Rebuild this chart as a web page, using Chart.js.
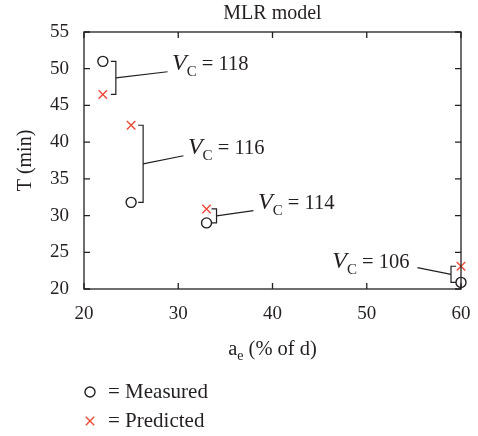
<!DOCTYPE html>
<html><head><meta charset="utf-8">
<script src="https://cdn.jsdelivr.net/npm/chart.js@4.4.0/dist/chart.umd.min.js"></script>
<style>html,body{margin:0;padding:0;background:#fff;} #wrap{width:478px;height:436px;position:relative;}</style>
</head><body><div id="wrap"><canvas id="c" width="478" height="436"></canvas></div>
<script>
// ---- data ----
const aeValues = [22, 25, 33, 60];            // a_e (% of d)
const measuredT = [51.0, 31.8, 29.0, 20.9];   // T (min), measured
const predictedT = [46.5, 42.3, 30.9, 23.1];  // T (min), MLR predicted
const vcValues = [118, 116, 114, 106];        // cutting speed groups
const xTickValues = [20, 30, 40, 50, 60];
const yTickValues = [20, 25, 30, 35, 40, 45, 50, 55];
const seriesLabels = ['Measured', 'Predicted'];

// ---- styles / annotation layout ----
const FONT = "'Liberation Serif', 'Times New Roman', serif";
const INK = '#231f20';
const RED = '#ee4a36';
const annoLayout = [
  {bracketDx: 13, labelX: 29.34, labelY: 49.82, align: 'left'},
  {bracketDx: 12, labelX: 31.03, labelY: 38.38, align: 'left'},
  {bracketDx: 10, labelX: 38.46, labelY: 30.9, align: 'left'},
  {bracketDx: -10, labelX: 54.53, labelY: 22.9, align: 'right'}
];

function vcParts(ctx, value) {
  const parts = [
    {t: 'V', f: 'italic 24px ' + FONT, dy: 0},
    {t: 'C', f: '15px ' + FONT, dy: 6},
    {t: ' = ' + value, f: '20.5px ' + FONT, dy: 0}
  ];
  let w = 0;
  parts.forEach(p => { ctx.font = p.f; p.w = ctx.measureText(p.t).width; w += p.w; });
  return {parts, w};
}

const decorPlugin = {
  id: 'decor',
  afterDatasetsDraw(chart) {
    const ctx = chart.ctx;
    const xs = chart.scales.x, ys = chart.scales.y;
    const a = chart.chartArea;
    ctx.save();
    // frame + inward ticks
    ctx.strokeStyle = INK;
    ctx.lineWidth = 1.3;
    ctx.strokeRect(a.left, a.top, a.right - a.left, a.bottom - a.top);
    ctx.beginPath();
    xTickValues.forEach(v => {
      const px = xs.getPixelForValue(v);
      ctx.moveTo(px, a.bottom); ctx.lineTo(px, a.bottom - 6);
      ctx.moveTo(px, a.top); ctx.lineTo(px, a.top + 6);
    });
    yTickValues.forEach(v => {
      const py = ys.getPixelForValue(v);
      ctx.moveTo(a.left, py); ctx.lineTo(a.left + 6, py);
      ctx.moveTo(a.right, py); ctx.lineTo(a.right - 6, py);
    });
    ctx.stroke();

    // brackets, leader lines, V_C labels
    ctx.lineWidth = 1.2;
    aeValues.forEach((x, i) => {
      const L = annoLayout[i];
      const px = xs.getPixelForValue(x);
      const y1 = ys.getPixelForValue(measuredT[i]);
      const y2 = ys.getPixelForValue(predictedT[i]);
      const top = Math.min(y1, y2), bot = Math.max(y1, y2);
      const bx = px + L.bracketDx;
      const tab = L.bracketDx > 0 ? -5 : 5;
      ctx.beginPath();
      ctx.moveTo(bx + tab, top); ctx.lineTo(bx, top); ctx.lineTo(bx, bot); ctx.lineTo(bx + tab, bot);
      ctx.stroke();
      const lx = xs.getPixelForValue(L.labelX);
      const ly = ys.getPixelForValue(L.labelY);
      const {parts, w} = vcParts(ctx, vcValues[i]);
      const startX = L.align === 'left' ? lx : lx - w;
      const endLineX = L.align === 'left' ? lx - 4.5 : lx + 8;
      const endLineY = L.align === 'left' ? ly + 1.7 : ly;
      ctx.beginPath();
      ctx.moveTo(bx, (top + bot) / 2); ctx.lineTo(endLineX, endLineY);
      ctx.stroke();
      ctx.fillStyle = INK;
      ctx.textBaseline = 'alphabetic';
      ctx.textAlign = 'left';
      let cx = startX;
      parts.forEach(p => { ctx.font = p.f; ctx.fillText(p.t, cx, ly + p.dy); cx += p.w; });
    });

    // x-axis title with subscript
    const xt = [
      {t: 'a', f: '20.5px ' + FONT, dy: 0},
      {t: 'e', f: '14px ' + FONT, dy: 5},
      {t: ' (% of d)', f: '20.5px ' + FONT, dy: 0}
    ];
    let tw = 0;
    xt.forEach(p => { ctx.font = p.f; p.w = ctx.measureText(p.t).width; tw += p.w; });
    let tx = (a.left + a.right) / 2 - tw / 2;
    const tyb = 355;
    ctx.fillStyle = INK;
    xt.forEach(p => { ctx.font = p.f; ctx.fillText(p.t, tx, tyb + p.dy); tx += p.w; });

    // legend
    const ds = chart.data.datasets;
    const rows = [392, 421];
    ds.forEach((d, k) => {
      const cy = rows[k];
      ctx.lineWidth = 1.4;
      ctx.strokeStyle = d.borderColor;
      ctx.beginPath();
      if (d.pointStyle === 'circle') {
        ctx.fillStyle = '#fff';
        ctx.arc(90, cy, 5, 0, Math.PI * 2);
        ctx.fill();
      } else {
        const o = 4.2;
        ctx.moveTo(90 - o, cy - o); ctx.lineTo(90 + o, cy + o);
        ctx.moveTo(90 + o, cy - o); ctx.lineTo(90 - o, cy + o);
      }
      ctx.stroke();
      ctx.fillStyle = INK;
      ctx.font = '21px ' + FONT;
      ctx.textBaseline = 'middle';
      ctx.fillText('= ' + d.label, 108, cy + 0.5);
    });
    ctx.restore();
  }
};

new Chart(document.getElementById('c'), {
  type: 'scatter',
  data: {
    datasets: [
      {
        label: seriesLabels[0],
        data: aeValues.map((x, i) => ({x, y: measuredT[i]})),
        pointStyle: 'circle', pointRadius: 5, pointHoverRadius: 5,
        borderColor: INK, backgroundColor: '#fff', borderWidth: 1.4,
        clip: false
      },
      {
        label: seriesLabels[1],
        data: aeValues.map((x, i) => ({x, y: predictedT[i]})),
        pointStyle: 'crossRot', pointRadius: 6, pointHoverRadius: 6,
        borderColor: RED, backgroundColor: RED, borderWidth: 1.4,
        clip: false
      }
    ]
  },
  options: {
    responsive: false,
    animation: false,
    devicePixelRatio: 1,
    layout: {padding: {left: 0, right: 17, top: 0, bottom: 0}},
    plugins: {
      legend: {display: false},
      tooltip: {enabled: false},
      title: {
        display: true, text: 'MLR model', fullSize: false,
        color: INK, font: {family: FONT, size: 20, weight: 'normal'},
        padding: {top: 2, bottom: 6}
      }
    },
    scales: {
      x: {
        type: 'linear', min: 20, max: 60,
        afterBuildTicks: s => { s.ticks = xTickValues.map(v => ({value: v})); },
        afterFit: s => { s.height = 147; s.paddingLeft = 0; s.paddingRight = 0; },
        ticks: {color: INK, font: {family: FONT, size: 19}, padding: 14},
        grid: {display: false, drawTicks: false},
        border: {display: false}
      },
      y: {
        type: 'linear', min: 20, max: 55,
        afterBuildTicks: s => { s.ticks = yTickValues.map(v => ({value: v})); },
        afterFit: s => { s.width = 84; s.paddingTop = 0; s.paddingBottom = 0; },
        ticks: {color: INK, font: {family: FONT, size: 19}, padding: 15},
        grid: {display: false, drawTicks: false},
        border: {display: false},
        title: {display: true, text: 'T (min)', color: INK, font: {family: FONT, size: 20, weight: 'normal'}, padding: {top: 14, bottom: 0}}
      }
    }
  },
  plugins: [decorPlugin]
});
</script>
</body></html>
